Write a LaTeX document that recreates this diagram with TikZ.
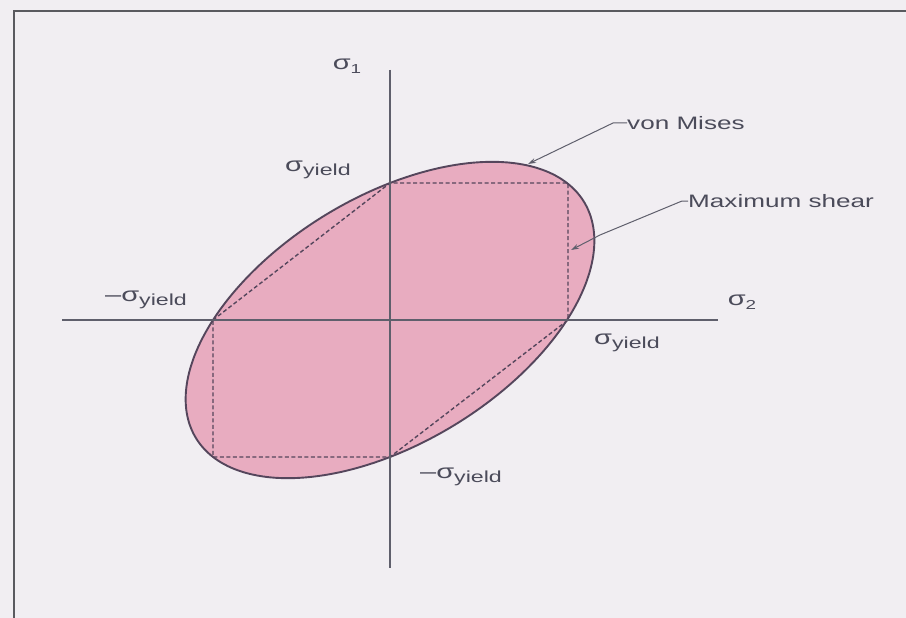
\documentclass[tikz,border=0pt]{standalone}
\usepackage{fontspec}
\setmainfont{Liberation Sans}
\usetikzlibrary{arrows.meta}
\definecolor{bgc}{RGB}{241,238,242}
\definecolor{pinkf}{RGB}{232,172,192}
\definecolor{edgec}{RGB}{85,70,92}
\definecolor{axisc}{RGB}{95,95,108}
\definecolor{txtc}{RGB}{75,75,90}
\definecolor{framec}{RGB}{90,90,95}
\newcommand\syld{σ\raisebox{-0.35ex}{\fontsize{16}{16}\selectfont yield}}
\newcommand\wide[1]{\scalebox{1.45}[1]{#1}}
\tikzset{
  lbl/.style={inner sep=0pt, text=txtc, font=\fontsize{20}{22}\selectfont},
  axisline/.style={draw=axisc, line width=1.6pt},
  leader/.style={draw=axisc, line width=1pt, -{Stealth[length=8pt,width=5pt]}},
}
\begin{document}
\begin{tikzpicture}[x=1pt,y=-1pt]
\useasboundingbox (0,0) rectangle (906,618);
\fill[bgc] (0,0) rectangle (906,618);
% frame (only top and left visible)
\coordinate (fl) at (14,618);
\coordinate (ftl) at (14,11);
\coordinate (fr) at (906,11);
\draw[framec, line width=2.5pt] (fl) -- (ftl) -- (fr);
% von Mises ellipse
\filldraw[fill=pinkf, draw=edgec, line width=1.9pt, smooth, samples=120, domain=0:360, variable=\t]
  plot ({390+177*(cos(\t)+sin(\t)/sqrt(3))},{320-137*(cos(\t)-sin(\t)/sqrt(3))}) -- cycle;
% Tresca hexagon
\coordinate (L) at (213,320);
\coordinate (T) at (390,183);
\coordinate (TR) at (568,183);
\coordinate (R) at (568,320);
\coordinate (B) at (390,457);
\coordinate (BL) at (213,457);
\draw[edgec, line width=1.4pt, dash pattern=on 4pt off 2.5pt] (L) -- (T) -- (TR) -- (R) -- (B) -- (BL) -- cycle;
% axes
\coordinate (ytop) at (390,70);
\coordinate (ybot) at (390,568);
\coordinate (xl) at (62,320);
\coordinate (xr) at (718,320);
\draw[axisline] (ytop) -- (ybot);
\draw[axisline] (xl) -- (xr);
% labels
\node[lbl] (s1) at (347,66) {\wide{σ\raisebox{-0.35ex}{\fontsize{13}{13}\selectfont 1}}};
\node[lbl] (s2) at (742,302) {\wide{σ\raisebox{-0.35ex}{\fontsize{13}{13}\selectfont 2}}};
\node[lbl] (yt) at (318,170) {\wide{\syld}};
\node[lbl] (yl) at (146,300) {\wide{–\syld}};
\node[lbl] (yr) at (627,343) {\wide{\syld}};
\node[lbl] (yb) at (461,477) {\wide{–\syld}};
\node[lbl, anchor=west, font=\fontsize{18}{20}\selectfont] (vm) at (627,123) {\wide{von Mises}};
\node[lbl, anchor=west, font=\fontsize{18}{20}\selectfont] (ms) at (688,201) {\wide{Maximum shear}};
% leaders
\coordinate (vmtip) at (528,164);
\coordinate (mstip) at (571,250);
\draw[leader] (vm.west) -- ++(-14,0) -- (vmtip);
\draw[leader] (ms.west) -- ++(-6,0) -- (600,235) -- (mstip);
\end{tikzpicture}
\end{document}
